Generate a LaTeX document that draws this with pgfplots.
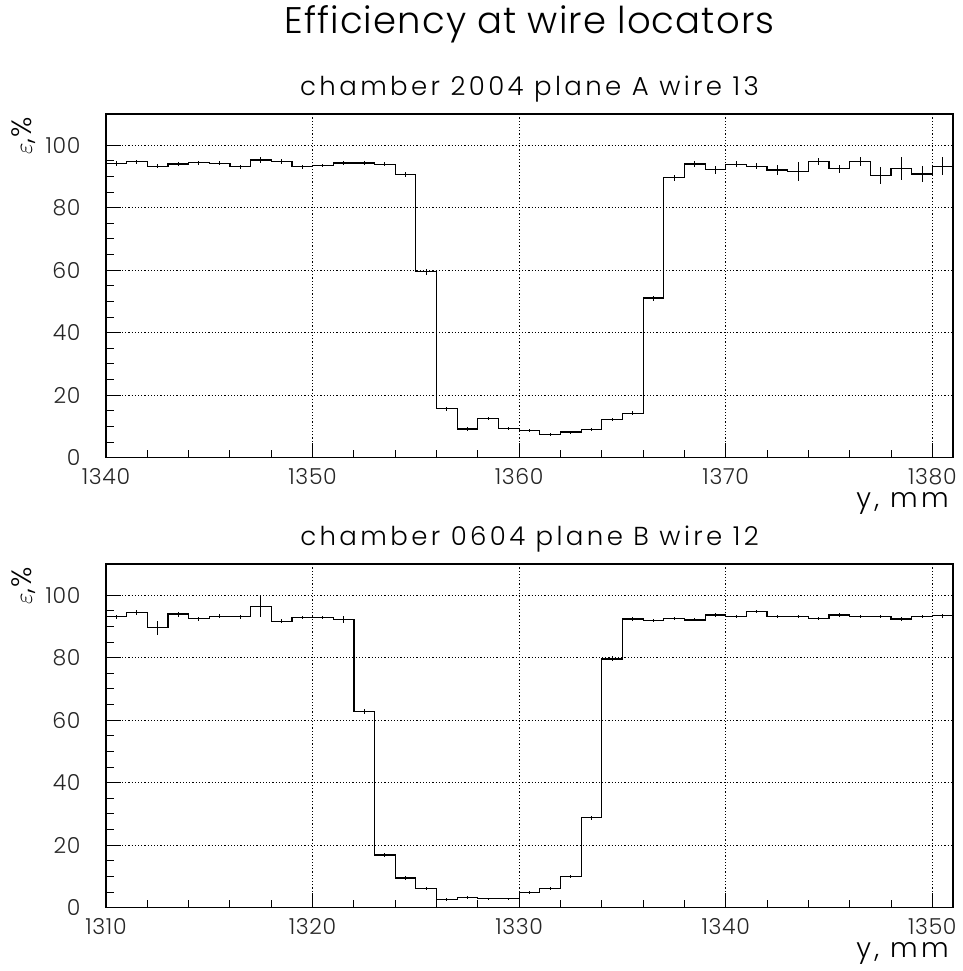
\documentclass[border=0pt]{standalone}
\usepackage{pgfplots}
\pgfplotsset{compat=1.18}
\usepackage{pgfplotstable}
\usepackage{fontspec}
\setmainfont{Poppins Light}[LetterSpace=3]
\newfontfamily\widefont{Poppins Light}[LetterSpace=13]

% bin left edge, efficiency (%), statistical error
\pgfplotstableread{
x y e
1340 94.1 0.7
1341 94.7 0.6
1342 93.3 0.6
1343 94.0 0.6
1344 94.4 0.6
1345 94.2 0.6
1346 93.1 0.7
1347 95.3 0.9
1348 94.8 0.7
1349 93.1 0.7
1350 93.5 0.6
1351 94.3 0.6
1352 94.3 0.6
1353 93.9 0.6
1354 90.6 0.8
1355 59.5 0.9
1356 15.7 0.6
1357 9.2 0.5
1358 12.6 0.5
1359 9.4 0.5
1360 8.7 0.5
1361 7.3 0.5
1362 8.2 0.5
1363 9.1 0.5
1364 12.2 0.6
1365 14.2 0.6
1366 51.1 0.8
1367 89.6 0.9
1368 94.0 0.9
1369 92.2 1.3
1370 93.9 0.9
1371 93.3 1.0
1372 92.1 1.5
1373 91.5 3.1
1374 94.9 1.1
1375 92.5 1.3
1376 94.7 1.5
1377 90.4 2.7
1378 92.6 3.7
1379 90.8 2.5
1380 93.3 2.9
1381 93.3 0.0
}\chamberA

\pgfplotstableread{
x y e
1310 93.1 0.7
1311 94.6 0.8
1312 89.6 2.3
1313 94.0 0.8
1314 92.5 0.6
1315 93.3 0.6
1316 93.1 0.6
1317 96.4 3.3
1318 91.7 0.7
1319 92.9 0.6
1320 92.9 0.6
1321 92.2 1.1
1322 62.7 0.8
1323 16.9 0.6
1324 9.5 0.5
1325 6.1 0.5
1326 2.6 0.4
1327 3.2 0.4
1328 2.9 0.3
1329 2.9 0.3
1330 4.8 0.4
1331 6.2 0.5
1332 9.9 0.5
1333 28.8 0.7
1334 79.6 0.8
1335 92.4 0.8
1336 92.0 0.5
1337 92.5 0.5
1338 92.1 0.5
1339 93.7 0.5
1340 93.2 0.5
1341 94.7 0.5
1342 93.2 0.5
1343 93.2 0.5
1344 92.5 0.5
1345 93.7 0.5
1346 93.1 0.5
1347 93.3 0.5
1348 92.4 0.5
1349 93.1 0.5
1350 93.4 0.6
1351 93.4 0.0
}\chamberB

\pgfplotsset{
  effpanel/.style={
    scale only axis,
    width=847pt, height=343.7pt,
    ymin=0, ymax=110,
    ytick={0,20,...,100},
    minor y tick num=3,
    minor x tick num=4,
    tick pos=left,
    tick align=inside,
    major tick length=15pt,
    minor tick length=8pt,
    every tick/.style={black, line width=1pt},
    axis line style={line width=1.4pt},
    grid=major,
    major grid style={black, line width=0.8pt, dash pattern=on 1.2pt off 2pt},
    clip mode=individual,
    /pgf/number format/assume math mode=true,
    /pgf/number format/1000 sep={},
    tick label style={font=\fontsize{22}{24}\selectfont, text=black!85},
    xticklabel style={inner sep=0pt, yshift=-11pt},
    yticklabel style={xshift=-22pt},
    title style={at={(0.5,1)}, anchor=base, yshift=13pt,
      font=\widefont\fontsize{26}{28}\selectfont},
  },
  histo/.style={black, line width=1.2pt, const plot mark left, mark=none},
  errs/.style={draw=none, mark=none,
    restrict expr to domain={\coordindex}{0:40},
    error bars/.cd, y dir=both, y explicit, error mark=none,
    error bar style={draw=black, solid, line width=1pt}},
}
\tikzset{
  xlab/.style={anchor=base east, inner sep=0pt, text height=0.55em,
    font=\widefont\fontsize{27}{29}\selectfont},
  ylab/.style={anchor=base east, rotate=90, inner sep=0pt,
    font=\fontsize{28}{30}\selectfont},
}

\begin{document}
\begin{tikzpicture}[x=1pt,y=1pt]
\path (0,0) rectangle (962,-971);
\node[anchor=base, font=\fontsize{37}{40}\selectfont] at (529.5,-34) {Efficiency at wire locators};

\begin{axis}[effpanel, at={(106pt,-114pt)}, anchor=north west,
  xmin=1340, xmax=1381, xtick={1340,1350,...,1380},
  title={chamber 2004 plane A wire 13}]
  \addplot[histo] table[x=x, y=y] {\chamberA};
  \addplot[errs] table[x expr=\thisrow{x}+0.5, y=y, y error=e] {\chamberA};
  \node[xlab] at ([xshift=-4pt, yshift=-50pt]rel axis cs:1,0) {y, mm};
  \node[ylab] at ([xshift=-74pt, yshift=-3pt]rel axis cs:0,1) {$\varepsilon$,\%};
\end{axis}

\begin{axis}[effpanel, at={(106pt,-564pt)}, anchor=north west,
  xmin=1310, xmax=1351, xtick={1310,1320,...,1350},
  title={chamber 0604 plane B wire 12}]
  \addplot[histo] table[x=x, y=y] {\chamberB};
  \addplot[errs] table[x expr=\thisrow{x}+0.5, y=y, y error=e] {\chamberB};
  \node[xlab] at ([xshift=-4pt, yshift=-50pt]rel axis cs:1,0) {y, mm};
  \node[ylab] at ([xshift=-74pt, yshift=-3pt]rel axis cs:0,1) {$\varepsilon$,\%};
\end{axis}
\end{tikzpicture}
\end{document}
